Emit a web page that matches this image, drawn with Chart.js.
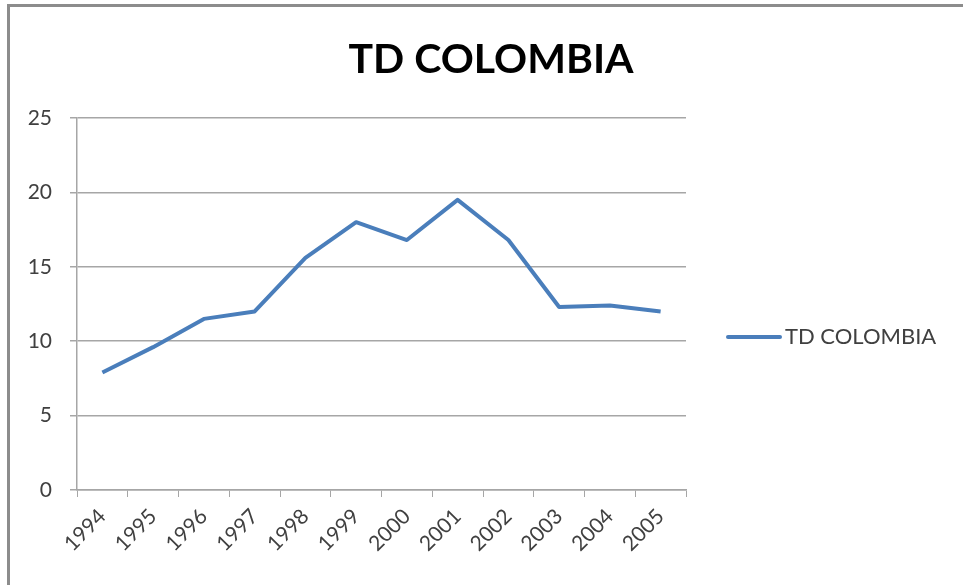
<!DOCTYPE html>
<html lang="es">
  <head>
    <meta charset="utf-8" />
    <title>TD COLOMBIA</title>
    <style>
      * {
        margin: 0;
        padding: 0;
      }
      body {
        background: #fff;
        width: 963px;
        height: 585px;
        overflow: hidden;
        position: relative;
      }
      .frame {
        position: absolute;
        left: 7px;
        top: 4px;
        width: 960px;
        height: 579px;
        border-left: 3px solid #8c8c8c;
        border-top: 3px solid #8c8c8c;
        border-bottom: 1px solid #d9d9d9;
        pointer-events: none;
      }
      canvas {
        position: absolute;
        left: 0;
        top: 0;
      }
    </style>
  </head>
  <body>
    <canvas id="myChart" width="963" height="585"></canvas>
    <div class="frame"></div>

    <script src="https://cdn.jsdelivr.net/npm/chart.js@4.4.0/dist/chart.umd.min.js"></script>

    <script>
      // data block
      const years = ["1994", "1995", "1996", "1997", "1998", "1999", "2000", "2001", "2002", "2003", "2004", "2005"];
      const tdColombia = [7.9, 9.6, 11.5, 12.0, 15.6, 18.0, 16.8, 19.5, 16.8, 12.3, 12.4, 12.0];
      const yTicks = [0, 5, 10, 15, 20, 25];

      const lineColor = "#4a7ebb";
      const textColor = "#404040";
      const gridColor = "#a6a6a6";
      const fontFamily = "Lato, 'Open Sans', sans-serif";

      // title + legend drawn by hand, Excel style
      const excelDecor = {
        id: "excelDecor",
        afterDraw(chart) {
          const { ctx } = chart;
          const ds = chart.data.datasets[0];
          ctx.save();
          ctx.fillStyle = "#000";
          ctx.font = "bold 41px " + fontFamily;
          ctx.textAlign = "center";
          ctx.textBaseline = "alphabetic";
          ctx.fillText("TD COLOMBIA", 491, 73);

          // legend
          const ly = 337;
          ctx.strokeStyle = ds.borderColor;
          ctx.lineWidth = 4;
          ctx.lineCap = "round";
          ctx.beginPath();
          ctx.moveTo(728, ly);
          ctx.lineTo(780, ly);
          ctx.stroke();
          ctx.fillStyle = textColor;
          ctx.font = "22px " + fontFamily;
          ctx.textAlign = "left";
          ctx.textBaseline = "middle";
          ctx.fillText(ds.label, 785, ly);
          ctx.restore();
        },
      };

      const config = {
        type: "line",
        data: {
          labels: years,
          datasets: [
            {
              label: "TD COLOMBIA",
              data: tdColombia,
              borderColor: lineColor,
              borderWidth: 4,
              pointRadius: 0,
              tension: 0,
              borderJoinStyle: "round",
            },
          ],
        },
        options: {
          responsive: false,
          animation: false,
          layout: {
            padding: { top: 118, right: 277, bottom: 0, left: 0 },
          },
          plugins: {
            legend: { display: false },
            title: { display: false },
            tooltip: { enabled: false },
          },
          scales: {
            x: {
              offset: true,
              afterFit(scale) {
                scale.height = 95;
              },
              grid: {
                offset: true,
                drawOnChartArea: false,
                drawTicks: true,
                tickLength: 7,
                color: gridColor,
              },
              border: { color: gridColor, width: 1.5 },
              ticks: {
                minRotation: 45,
                maxRotation: 45,
                padding: 7,
                color: textColor,
                font: { family: fontFamily, size: 21 },
              },
            },
            y: {
              min: 0,
              max: 25,
              afterFit(scale) {
                scale.width = 77;
              },
              afterBuildTicks(scale) {
                scale.ticks = yTicks.map((v) => ({ value: v }));
              },
              grid: {
                color: gridColor,
                lineWidth: 1.5,
                tickLength: 7,
              },
              border: { color: gridColor, width: 1.5 },
              ticks: {
                padding: 18,
                color: textColor,
                font: { family: fontFamily, size: 21 },
              },
            },
          },
        },
        plugins: [excelDecor],
      };

      const myChart = new Chart(document.getElementById("myChart"), config);
    </script>
  </body>
</html>
